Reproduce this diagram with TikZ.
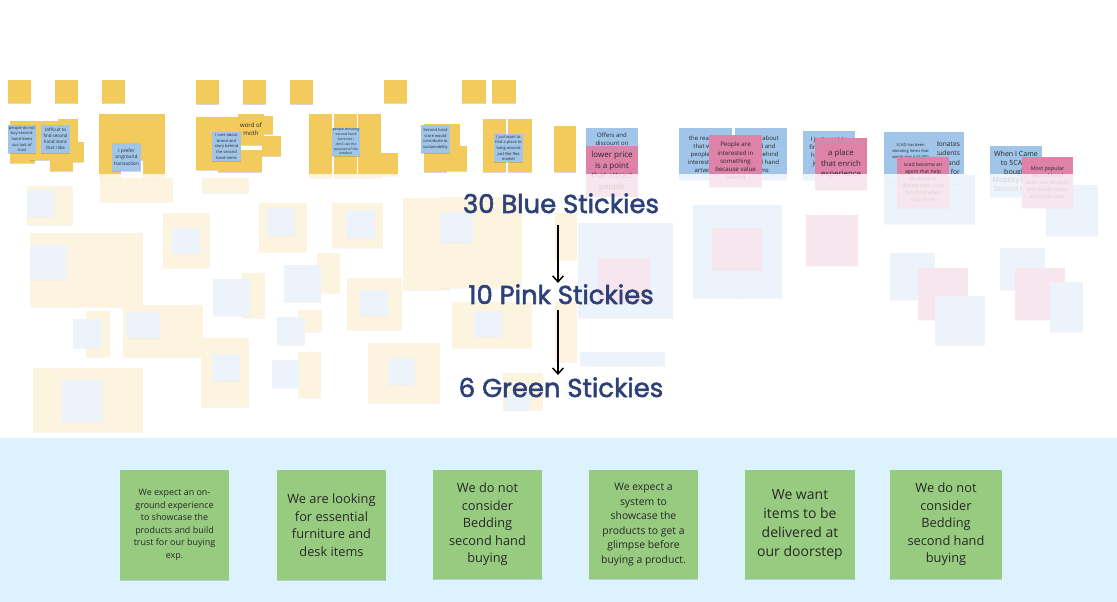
\documentclass[tikz,border=0pt]{standalone}
\usepackage{fontspec}
\setmainfont{Open Sans}
\newfontfamily\ttlfont{Poppins}[FakeBold=2]
\usetikzlibrary{arrows.meta,shadows}
\definecolor{stY}{RGB}{243,202,92}
\definecolor{stB}{RGB}{160,197,233}
\definecolor{stP}{RGB}{222,130,170}
\definecolor{stG}{RGB}{151,203,127}
\definecolor{band}{RGB}{220,242,253}
\definecolor{navy}{RGB}{46,64,120}
\definecolor{ink}{RGB}{40,40,40}
\newcommand\fz[2]{\fontsize{#1pt}{#2pt}\selectfont}
% \stk{style}{name}{x1}{y1}{x2}{y2}{text}
\newcommand\stk[7]{%
  \pgfmathsetmacro\stkw{(#5-#3)*0.75}%
  \pgfmathsetmacro\stkh{(#6-#4)*0.75}%
  \node[#1, minimum width=\stkw pt, minimum height=\stkh pt] (#2) at ({(#3+#5)/2},{(#4+#6)/2}) {#7};}
\tikzset{
  note/.style={inner sep=0.3pt, align=center, text=ink,
    drop shadow={shadow xshift=0.2pt, shadow yshift=-0.8pt, fill=black, opacity=0.15}},
  yb/.style={note, fill=stY},
  bb/.style={note, fill=stB},
  pb/.style={note, fill=stP},
  gb/.style={note, fill=stG},
  ttl/.style={font=\ttlfont\fontsize{19.4pt}{23pt}\selectfont, text=navy, inner sep=0pt, anchor=base},
  arr/.style={draw=black, line width=1.1pt, -{Straight Barb[length=4.5pt,width=8pt]}}
}
\begin{document}
\begin{tikzpicture}[x=0.75pt,y=-0.75pt]
\useasboundingbox (0,0) rectangle (1117,602);
\fill[white] (0,0) rectangle (1117,602);

% ---------- faded layer ----------
\stk{yb}{f1}{27}{186}{73}{225}{}
\stk{bb}{f2}{27}{190}{55}{217}{}
\stk{yb}{f3}{100}{178}{173}{202}{}
\stk{yb}{f4}{202}{178}{249}{193}{}
\stk{yb}{f5}{163}{213}{210}{268}{}
\stk{bb}{f6}{172}{228}{200}{254}{}
\stk{yb}{f7}{30}{233}{143}{307}{}
\stk{bb}{f8}{30}{245}{67}{280}{}
\stk{yb}{f9}{86}{311}{110}{357}{}
\stk{bb}{f10}{73}{319}{101}{348}{}
\stk{yb}{f11}{123}{305}{203}{357}{}
\stk{bb}{f12}{126}{312}{160}{338}{}
\stk{yb}{f13}{33}{368}{143}{432}{}
\stk{bb}{f14}{62}{380}{103}{422}{}
\stk{yb}{f15}{201}{338}{249}{407}{}
\stk{bb}{f16}{212}{354}{240}{381}{}
\stk{yb}{f17}{242}{273}{265}{318}{}
\stk{bb}{f18}{213}{279}{250}{316}{}
\stk{yb}{f19}{259}{203}{307}{252}{}
\stk{bb}{f20}{267}{208}{295}{236}{}
\stk{yb}{f21}{332}{203}{383}{248}{}
\stk{bb}{f22}{346}{210}{375}{238}{}
\stk{yb}{f23}{317}{253}{340}{293}{}
\stk{bb}{f24}{284}{265}{321}{302}{}
\stk{yb}{f25}{298}{310}{322}{332}{}
\stk{bb}{f26}{277}{317}{305}{345}{}
\stk{yb}{f27}{298}{352}{321}{398}{}
\stk{bb}{f28}{272}{360}{299}{388}{}
\stk{yb}{f29}{347}{278}{402}{330}{}
\stk{bb}{f30}{360}{290}{388}{316}{}
\stk{yb}{f31}{368}{343}{440}{403}{}
\stk{bb}{f32}{388}{358}{415}{385}{}
\stk{yb}{f33}{403}{198}{450}{290}{}
\stk{yb}{f34}{440}{197}{522}{288}{}
\stk{bb}{f35}{440}{212}{473}{243}{}
\stk{yb}{f36}{555}{213}{577}{260}{}
\stk{yb}{f37}{452}{302}{532}{348}{}
\stk{bb}{f38}{474}{311}{503}{337}{}
\stk{yb}{f39}{555}{302}{577}{362}{}
\stk{yb}{f40}{503}{373}{543}{410}{}
\stk{bb}{f41}{505}{393}{530}{410}{}
\stk{bb}{f42}{578}{223}{626}{272}{}
\stk{bb}{f43}{625}{223}{673}{272}{}
\stk{bb}{f44}{578}{270}{626}{318}{}
\stk{bb}{f45}{625}{270}{673}{318}{}
\stk{pb}{f46}{598}{258}{650}{303}{}
\stk{bb}{f47}{580}{352}{665}{366}{}
\stk{bb}{f48}{693}{205}{742}{254}{}
\stk{bb}{f49}{735}{205}{782}{254}{}
\stk{bb}{f50}{693}{250}{742}{298}{}
\stk{bb}{f51}{735}{250}{782}{298}{}
\stk{pb}{f52}{712}{228}{762}{270}{}
\stk{pb}{f53}{806}{215}{858}{266}{}
\stk{bb}{f54}{884}{175}{936}{224}{}
\stk{bb}{f55}{936}{175}{975}{224}{}
\stk{bb}{f56}{890}{253}{935}{300}{}
\stk{pb}{f57}{918}{268}{968}{320}{}
\stk{bb}{f58}{935}{296}{985}{345}{}
\stk{bb}{f59}{1000}{248}{1045}{290}{}
\stk{pb}{f60}{1015}{268}{1065}{320}{}
\stk{bb}{f61}{1050}{282}{1083}{332}{}
\stk{bb}{f62}{1046}{185}{1098}{236}{}

% ---------- top row ----------
\stk{yb}{r1}{8}{80}{31}{103}{}
\stk{yb}{r2}{55}{80}{78}{103}{}
\stk{yb}{r3}{102}{80}{125}{103}{}
\stk{yb}{r4}{196}{80}{219}{104}{}
\stk{yb}{r5}{243}{80}{266}{104}{}
\stk{yb}{r6}{290}{80}{313}{104}{}
\stk{yb}{r7}{384}{80}{407}{103}{}
\stk{yb}{r8}{462}{80}{486}{103}{}
\stk{yb}{r9}{492}{80}{516}{103}{}

% ---------- cluster A ----------
\stk{yb}{a1}{10}{121}{35}{163}{}
\stk{yb}{a2}{30}{121}{60}{160}{}
\stk{yb}{a3}{58}{119}{78}{148}{}
\stk{yb}{a4}{62}{142}{84}{162}{}
\stk{yb}{a5}{50}{145}{73}{171}{}
\stk{bb,font=\fz{3}{4.2}}{a6}{8}{125}{36}{153}{people do not\\buy second-\\hand items\\cuz lack of\\trust}
\stk{bb,font=\fz{3.3}{4.4}}{a7}{41}{125}{70}{153}{Difficult to\\find second\\hand items\\that I like}

% ---------- cluster B ----------
\stk{yb}{b1}{99}{114}{121}{138}{}
\stk{yb}{b2}{121}{114}{143}{138}{}
\stk{yb}{b3}{143}{114}{165}{138}{}
\stk{yb}{b4}{99}{138}{121}{160}{}
\stk{yb}{b5}{121}{138}{143}{160}{}
\stk{yb}{b6}{143}{136}{165}{160}{}
\stk{yb}{b7}{99}{158}{121}{180}{}
\stk{yb}{b8}{143}{156}{165}{180}{}
\stk{bb,font=\fz{3.6}{5}}{b9}{112}{143}{141}{171}{I prefer\\onground\\transaction}

% ---------- cluster C ----------
\stk{yb}{c1}{196}{117}{218}{140}{}
\stk{yb}{c2}{218}{117}{240}{138}{}
\stk{yb}{c4}{252}{116}{273}{134}{}
\stk{yb,font=\fz{4.6}{6}}{c3}{238}{114}{264}{145}{word of\\moth}
\stk{yb}{c5}{262}{136}{281}{156}{}
\stk{yb}{c6}{196}{140}{218}{170}{}
\stk{yb}{c7}{218}{150}{262}{172}{}
\stk{bb,font=\fz{3}{4.2}}{c8}{212}{132}{241}{161}{I care about\\brand and\\story behind\\the second\\hand items}

% ---------- cluster D ----------
\stk{yb}{d1}{309}{114}{332}{140}{}
\stk{yb}{d2}{309}{138}{332}{160}{}
\stk{yb}{d3}{309}{158}{332}{178}{}
\stk{yb}{d4}{334}{114}{357}{140}{}
\stk{yb}{d5}{334}{156}{357}{178}{}
\stk{yb}{d6}{358}{114}{381}{160}{}
\stk{yb}{d7}{358}{158}{381}{178}{}
\stk{yb}{d8}{378}{153}{398}{176}{}
\stk{bb,font=\fz{2.6}{3.6}}{d9}{332}{128}{360}{156}{people donating\\second hand\\furniture I\\don't use the\\purpose of the\\product}

% ---------- cluster E ----------
\stk{yb}{e1}{424}{124}{460}{150}{}
\stk{yb}{e2}{424}{148}{447}{172}{}
\stk{yb}{e3}{447}{146}{467}{171}{}
\stk{bb,font=\fz{3}{4.2}}{e4}{421}{125}{450}{153}{Second hand\\store would\\contribute to\\sustainability}

% ---------- cluster F ----------
\stk{yb}{h1}{483}{119}{506}{148}{}
\stk{yb}{h2}{483}{146}{506}{172}{}
\stk{yb}{h3}{508}{119}{532}{145}{}
\stk{yb}{h4}{508}{145}{532}{172}{}
\stk{bb,font=\fz{3}{4.2}}{h5}{494}{134}{523}{162}{I just want to\\find a place to\\hang around\\just like flea\\market}

% ---------- cluster G ----------
\stk{yb}{k1}{554}{126}{576}{150}{}
\stk{yb}{k2}{554}{148}{576}{172}{}

% ---------- blue / pink clusters ----------
\stk{bb,font=\fz{4.5}{5.8}}{m1}{586}{128}{638}{150}{Offers and\\discount on}
\stk{pb,font=\fz{6}{8}}{m2}{586}{146}{638}{197}{lower price\\is a point\\that attract\\people}
\stk{bb,font=\fz{4.5}{6}}{m3}{679}{128}{732}{180}{the reasons\\that why\\people are\\interested in\\artwork}
\stk{bb,font=\fz{4.5}{6}}{m4}{735}{128}{787}{180}{I learn about\\brand and\\story behind\\second hand\\items}
\stk{pb,font=\fz{4.6}{6.2}}{m5}{709}{135}{762}{187}{People are\\interested in\\something\\because value\\behind}
\stk{bb,font=\fz{4.5}{6}}{m6}{803}{131}{855}{180}{I just want to\\find a place to\\hang around\\just like flea\\market}
\stk{pb,font=\fz{5.9}{8.2}}{m7}{815}{138}{867}{190}{a place\\that enrich\\experience}
\stk{bb,font=\fz{5}{7},align=right}{m8}{912}{132}{964}{184}{SCAD donates\\to students\\and\\for}
\stk{bb,font=\fz{3}{4.2}}{m9}{884}{132}{937}{182}{SCAD has been\\donating items that\\weigh about 55,000\\pounds as an\\average year}
\stk{pb,font=\fz{3.8}{5.2}}{m10}{897}{157}{949}{208}{scad become an\\agent that help\\students to\\donate their used\\furniture when\\they leave}
\stk{bb,font=\fz{5.3}{6.5}}{m11}{990}{146}{1042}{197}{When I Came\\to SCAD I\\bought\\Mobility Items\\Second Hand}
\stk{pb,font=\fz{4}{5.3}}{m12}{1022}{157}{1073}{208}{Most popular\\second hand\\items are Mobility\\and Study tables\\and desk chair}

% ---------- fade overlay ----------
\fill[white, opacity=0.8] (0,174) rectangle (1117,438);

% ---------- bottom band ----------
\fill[band] (0,438) rectangle (1117,602);
\stk{gb,font=\fz{6.7}{9.4}}{g1}{120}{470}{229}{580}{We expect an on-\\ground experience\\to showcase the\\products and build\\trust for our buying\\exp.}
\stk{gb,font=\fz{9.6}{13.1}}{g2}{277}{470}{386}{580}{We are looking\\for essential\\furniture and\\desk items}
\stk{gb,font=\fz{9.6}{13.1}}{g3}{433}{470}{542}{579}{We do not\\consider\\Bedding\\second hand\\buying}
\stk{gb,font=\fz{7.8}{10.9}}{g4}{589}{470}{698}{579}{We expect a\\system to\\showcase the\\products to get a\\glimpse before\\buying a product.}
\stk{gb,font=\fz{10.5}{14.3}}{g5}{745}{470}{855}{579}{We want\\items to be\\delivered at\\our doorstep}
\stk{gb,font=\fz{9.6}{13.1}}{g6}{890}{470}{1002}{579}{We do not\\consider\\Bedding\\second hand\\buying}

% ---------- titles ----------
\node[ttl] (t1) at (561,213) {30 Blue Stickies};
\node[ttl] (t2) at (561,304) {10 Pink Stickies};
\node[ttl] (t3) at (561,397) {6 Green Stickies};
\draw[arr, shorten <=9pt, shorten >=0.8pt] ([xshift=-2.25pt]t1.south) -- ([xshift=-2.25pt]t2.north);
\draw[arr, shorten <=4.5pt, shorten >=1.5pt] ([xshift=-2.25pt]t2.south) -- ([xshift=-2.25pt]t3.north);
\end{tikzpicture}
\end{document}
